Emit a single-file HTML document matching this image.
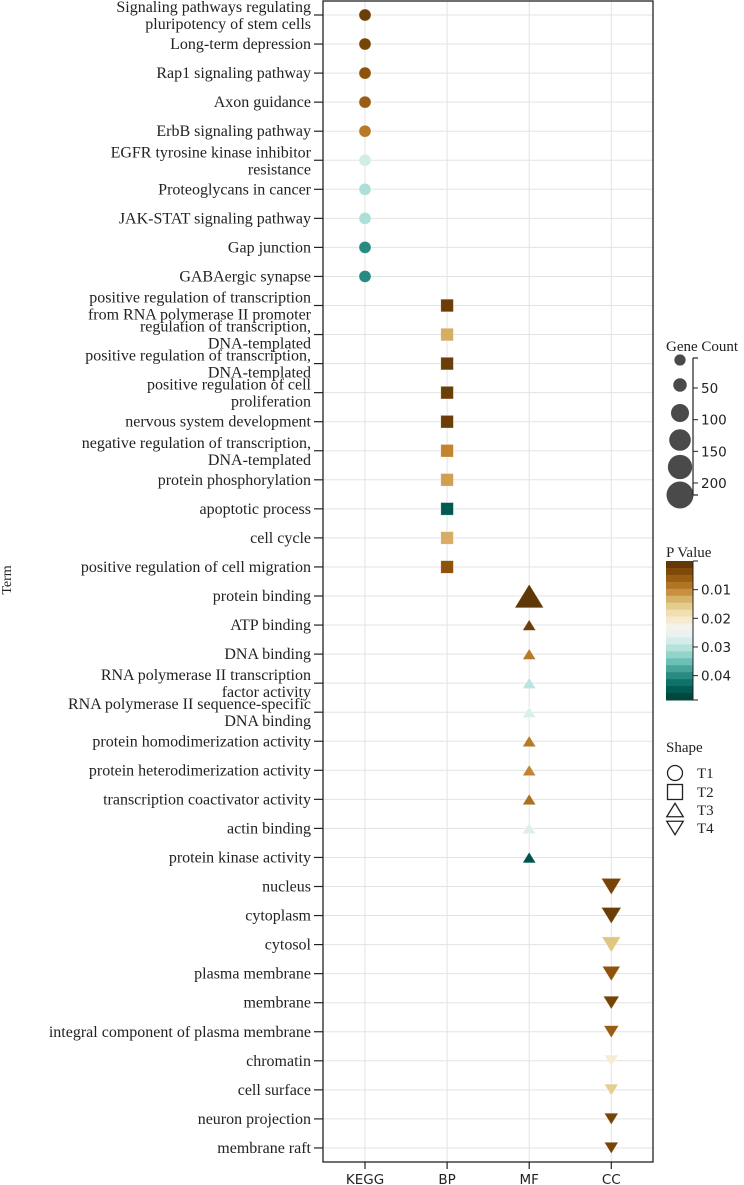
<!DOCTYPE html>
<html><head><meta charset="utf-8"><style>
body{margin:0;background:#fff}
svg{display:block}
.lab{font-family:"Liberation Serif",serif;font-size:16px;fill:#222}
.tk{font-family:"DejaVu Sans",sans-serif;font-size:13.5px;fill:#222}
</style></head><body>
<svg id="chart" width="744" height="1185" viewBox="0 0 744 1185" xmlns="http://www.w3.org/2000/svg"></svg>
<script>
const categories=["KEGG","BP","MF","CC"];
const terms=[
"Signaling pathways regulating|pluripotency of stem cells","Long-term depression","Rap1 signaling pathway","Axon guidance","ErbB signaling pathway","EGFR tyrosine kinase inhibitor|resistance","Proteoglycans in cancer","JAK-STAT signaling pathway","Gap junction","GABAergic synapse",
"positive regulation of transcription|from RNA polymerase II promoter","regulation of transcription,|DNA-templated","positive regulation of transcription,|DNA-templated","positive regulation of cell|proliferation","nervous system development","negative regulation of transcription,|DNA-templated","protein phosphorylation","apoptotic process","cell cycle","positive regulation of cell migration",
"protein binding","ATP binding","DNA binding","RNA polymerase II transcription|factor activity","RNA polymerase II sequence-specific|DNA binding","protein homodimerization activity","protein heterodimerization activity","transcription coactivator activity","actin binding","protein kinase activity",
"nucleus","cytoplasm","cytosol","plasma membrane","membrane","integral component of plasma membrane","chromatin","cell surface","neuron projection","membrane raft"];
const termCategory=[0,0,0,0,0,0,0,0,0,0,1,1,1,1,1,1,1,1,1,1,2,2,2,2,2,2,2,2,2,2,3,3,3,3,3,3,3,3,3,3];
const pValues=[0.002,0.003,0.005,0.006,0.009,0.028,0.031,0.031,0.040,0.040,
0.002,0.013,0.002,0.002,0.002,0.010,0.012,0.045,0.013,0.005,
0.001,0.002,0.009,0.030,0.027,0.009,0.010,0.008,0.027,0.046,
0.003,0.002,0.015,0.005,0.003,0.006,0.021,0.016,0.003,0.003];
const geneCounts=[33,33,33,33,33,33,33,33,33,33,
40,40,40,40,40,40,40,40,40,40,
190,33,33,33,33,33,33,33,33,33,
100,100,90,80,60,50,40,40,40,40];
const sizeTicks=[50,100,150,200];
const sizeLegend=[25,50,100,140,170,200];
const pTicks=[0.01,0.02,0.03,0.04];
const shapeNames=["T1","T2","T3","T4"];

const NS="http://www.w3.org/2000/svg";
const svg=document.getElementById('chart');
function mk(t,a,p){const e=document.createElementNS(NS,t);for(const k in a)e.setAttribute(k,a[k]);(p||svg).appendChild(e);return e;}
const L=323,R=653,T=1,B=1162;
const xS=i=>365+i*82.1;
const yS=i=>15+i*29.05;
const sz=c=>9+c*0.09;
const stops=["#543005","#8c510a","#bf812d","#dfc27d","#f6e8c3","#f5f5f5","#c7eae5","#80cdc1","#35978f","#01665e","#003c30"];
const PMAX=0.0485;
function hex(h){return[1,3,5].map(i=>parseInt(h.substr(i,2),16));}
function col(p){let t=Math.max(0,Math.min(1,p/PMAX))*(stops.length-1);let i=Math.min(Math.floor(t),stops.length-2),f=t-i;const a=hex(stops[i]),b=hex(stops[i+1]);return"rgb("+a.map((v,k)=>Math.round(v+(b[k]-v)*f)).join(",")+")";}

const grid=mk('g',{});
categories.forEach((c,i)=>mk('line',{x1:xS(i),x2:xS(i),y1:T,y2:B,stroke:"#e3e3e3","stroke-width":1},grid));
terms.forEach((t,i)=>mk('line',{x1:L,x2:R,y1:yS(i),y2:yS(i),stroke:"#e3e3e3","stroke-width":1},grid));
const fr=mk('rect',{x:L,y:T,width:R-L,height:B-T,fill:"none",stroke:"#222","stroke-width":1.3});

terms.forEach((t,i)=>{const y=yS(i);mk('line',{x1:L-9,x2:L,y1:y,y2:y,stroke:"#222","stroke-width":1.2});
 const parts=t.split('|');const tx=mk('text',{class:'lab','text-anchor':'end',x:311});
 
 if(parts.length==1){tx.setAttribute('y',y+5);tx.textContent=parts[0];}
 else parts.forEach((p,k)=>{const s=mk('tspan',{x:311,y:y-3+k*17},tx);s.textContent=p;});});
categories.forEach((c,i)=>{mk('line',{x1:xS(i),x2:xS(i),y1:B,y2:B+7,stroke:"#222","stroke-width":1.2});
 const tx=mk('text',{class:'tk','text-anchor':'middle',x:xS(i),y:B+22});tx.textContent=c;
 });
const yt=mk('text',{class:'lab',style:'font-size:14px','text-anchor':'middle',transform:'translate(11,580) rotate(-90)'});yt.textContent="Term";

function shape(k,x,y,d,fill,stroke,sw,parent){
 let e;const r=d/2;
 if(k==0)e=mk('circle',{cx:x,cy:y,r:r},parent);
 else if(k==1)e=mk('rect',{x:x-r,y:y-r,width:d,height:d},parent);
 else if(k==2){const h=d*0.9;e=mk('polygon',{points:`${x-r*1.1},${y+h/2} ${x+r*1.1},${y+h/2} ${x},${y-h/2}`},parent);}
 else {const h=d*0.9;e=mk('polygon',{points:`${x-r*1.1},${y-h/2} ${x+r*1.1},${y-h/2} ${x},${y+h/2}`},parent);}
 e.setAttribute('fill',fill);e.setAttribute('stroke',stroke);e.setAttribute('stroke-width',sw);return e;}
terms.forEach((t,i)=>{const k=termCategory[i];
 const e=shape(k,xS(k),yS(i),sz(geneCounts[i]),col(pValues[i]),"rgba(255,255,255,0.5)",0.6);
 });
const g1=mk('g',{});
const gt=mk('text',{class:'lab',style:'font-size:15px',x:666,y:351},g1);gt.textContent="Gene Count";
const cy=[360,385,413,440,467,495];
sizeLegend.forEach((c,i)=>mk('circle',{cx:680,cy:cy[i],r:sz(c)/2,fill:"#4a4a4a"},g1));
mk('line',{x1:693,x2:693,y1:358,y2:495,stroke:"#222","stroke-width":1.2},g1);
mk('line',{x1:693,x2:698,y1:358,y2:358,stroke:"#222","stroke-width":1.2},g1);
mk('line',{x1:693,x2:698,y1:495,y2:495,stroke:"#222","stroke-width":1.2},g1);
const gy=c=>388+(c-50)*(483-388)/150;
sizeTicks.forEach(c=>{mk('line',{x1:693,x2:698,y1:gy(c),y2:gy(c),stroke:"#222"},g1);
 const tx=mk('text',{class:'tk',x:701,y:gy(c)+5},g1);tx.textContent=c;});
const g2=mk('g',{});
const pt=mk('text',{class:'lab',style:'font-size:15px',x:666,y:557},g2);pt.textContent="P Value";
const cT=561,cB=700,N=20;
for(let j=0;j<N;j++)mk('rect',{x:666,y:cT+j*(cB-cT)/N,width:27,height:(cB-cT)/N+0.5,fill:col((j+0.5)/N*PMAX)},g2);
mk('line',{x1:693,x2:693,y1:cT,y2:cB,stroke:"#222"},g2);
mk('line',{x1:693,x2:698,y1:cT,y2:cT,stroke:"#222"},g2);mk('line',{x1:693,x2:698,y1:cB,y2:cB,stroke:"#222"},g2);
pTicks.forEach(p=>{const y=cT+p/PMAX*(cB-cT);mk('line',{x1:693,x2:698,y1:y,y2:y,stroke:"#222"},g2);
 const tx=mk('text',{class:'tk',x:701,y:y+5},g2);tx.textContent=p.toFixed(2);});
const g3=mk('g',{});
const st=mk('text',{class:'lab',style:'font-size:15px',x:666,y:752},g3);st.textContent="Shape";
const sy=[773,792,810,828];
shapeNames.forEach((n,i)=>{shape(i,675,sy[i],15,"none","#222",1.3,g3);
 const tx=mk('text',{class:'lab',style:'font-size:15px',x:697,y:sy[i]+5},g3);tx.textContent=n;});
</script>
</body></html>
